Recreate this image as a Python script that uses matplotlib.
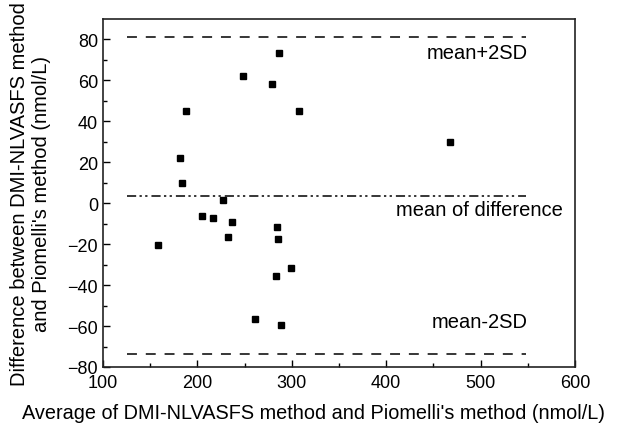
import matplotlib
matplotlib.use("Agg")
import matplotlib.pyplot as plt
import numpy as np

plt.rcParams['font.family'] = ['Liberation Sans', 'DejaVu Sans']

avg_values = [286.8, 248.6, 279.3, 188.2, 307.3, 181.9, 183.7, 226.8, 204.5, 216.2,
              236.3, 232.4, 157.9, 284.0, 285.4, 298.8, 283.0, 260.7, 288.2, 467.6]
diff_values = [73.2, 62.2, 58.2, 45.2, 45.2, 21.9, 9.9, 1.7, -6.2, -7.4,
               -9.3, -16.4, -20.6, -11.4, -17.5, -31.5, -35.5, -56.6, -59.6, 29.8]

mean_diff = 3.7
upper_limit = 81.1
lower_limit = -73.7
line_x = [125, 548]

fig = plt.figure(figsize=(6.27, 4.31), dpi=100)
ax = fig.add_axes([0.1643, 0.1462, 0.7527, 0.8074])

ax.plot(avg_values, diff_values, linestyle='none', marker='s', markersize=4.6,
        color='black')
ax.plot(line_x, [upper_limit, upper_limit], color='black', lw=1.1,
        linestyle=(0, (6.5, 5.8)))
ax.plot(line_x, [lower_limit, lower_limit], color='black', lw=1.1,
        linestyle=(0, (6.5, 5.8)))
ax.plot(line_x, [mean_diff, mean_diff], color='black', lw=1.1,
        linestyle=(0, (6, 2.2, 1.5, 2.2, 1.5, 2.6)))

ax.text(550, 73.5, 'mean+2SD', ha='right', va='center', fontsize=14.5)
ax.text(587, -3, 'mean of difference', ha='right', va='center', fontsize=14.5)
ax.text(550, -58, 'mean-2SD', ha='right', va='center', fontsize=14.5)

ax.set_xlim(100, 600)
ax.set_ylim(-80, 90)
ax.set_xticks([100, 200, 300, 400, 500, 600])
ax.set_xticks(np.arange(150, 600, 100), minor=True)
ax.set_yticks([-80, -60, -40, -20, 0, 20, 40, 60, 80])
ax.set_yticks(np.arange(-70, 90, 20), minor=True)
ax.tick_params(which='both', direction='in', top=False, right=False,
               labelsize=13, colors='black')
ax.tick_params(axis='x', which='major', pad=5)
ax.tick_params(which='major', length=5, width=1)
ax.tick_params(which='minor', length=3, width=1)
for s in ax.spines.values():
    s.set_linewidth(1.2)
    s.set_color('#222222')

ax.set_xlabel("Average of DMI-NLVASFS method and Piomelli's method (nmol/L)",
              fontsize=14.3, va='center')
ax.xaxis.set_label_coords(0.446, -0.131)
ax.set_ylabel("Difference between DMI-NLVASFS method\nand Piomelli's method (nmol/L)",
              fontsize=14.5, linespacing=1.2, va='center')
ax.yaxis.set_label_coords(-0.153, 0.5)

fig.savefig('out.png', dpi=100)
